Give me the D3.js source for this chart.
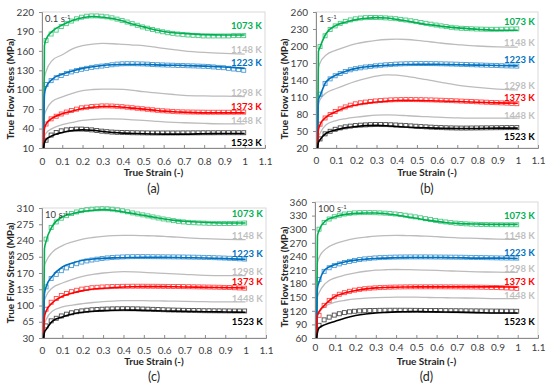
<!DOCTYPE html>
<html>
<head>
<meta charset="utf-8">
<script src="https://cdnjs.cloudflare.com/ajax/libs/d3/7.8.5/d3.min.js"></script>
<style>
body { margin: 0; background: #fff; }
svg { display: block; font-family: Lato, "Open Sans", sans-serif; }
</style>
</head>
<body>
<svg id="chart" width="550" height="392"></svg>
<script>
// temperatures, top curve to bottom curve
var temps = ["1073 K", "1148 K", "1223 K", "1298 K", "1373 K", "1448 K", "1523 K"];
// which temperatures have measured points
var expTemps = [0, 2, 4, 6];

var strainTicks = [0, 0.1, 0.2, 0.3, 0.4, 0.5, 0.6, 0.7, 0.8, 0.9, 1, 1.1];
var yTicksA = [10, 40, 70, 100, 130, 160, 190, 220];
var yTicksB = [20, 50, 80, 110, 140, 170, 200, 230, 260];
var yTicksC = [30, 65, 100, 135, 170, 205, 240, 275, 310];
var yTicksD = [60, 90, 120, 150, 180, 210, 240, 270, 300, 330, 360];

// strain of the model curve points
var strainModel = [0.008, 0.012, 0.02, 0.05, 0.1, 0.15, 0.2, 0.25, 0.3, 0.35, 0.4, 0.45, 0.5, 0.55, 0.6, 0.65, 0.7, 0.8, 0.9, 1.0];
// strain of the measured points
var strainExp = [0.02, 0.045, 0.07, 0.095, 0.12, 0.145, 0.17, 0.195, 0.22, 0.245, 0.27, 0.295, 0.32, 0.345, 0.37, 0.395, 0.42, 0.445, 0.47, 0.495,
                 0.52, 0.545, 0.57, 0.595, 0.62, 0.645, 0.67, 0.695, 0.72, 0.745, 0.77, 0.795, 0.82, 0.845, 0.87, 0.895, 0.92, 0.945, 0.97, 0.995];

// (a) 0.1 s-1
var modelA = [
  [10, 168, 178, 190, 200, 207, 211, 213, 212, 210, 206, 201, 197, 193, 190, 188, 187, 185, 184.6, 184.6],
  [10, 118, 128, 145, 154, 163, 168, 170.5, 171.5, 171, 170, 169, 168, 166, 163.7, 162, 160, 157.5, 156, 155],
  [10, 92, 104, 116, 124, 129, 133, 135.5, 137.5, 138.5, 139, 139, 139, 138.5, 138, 137.8, 137.5, 136.5, 135, 133],
  [10, 60, 68, 81.7, 89, 94.5, 98.6, 100.3, 101, 101, 100.6, 99, 97, 95.5, 94, 92.6, 91.4, 90.4, 90, 89.5],
  [10, 40, 47, 56, 62.7, 67, 71, 73, 74, 74, 73, 71.5, 70, 68.5, 67, 66, 65.3, 64.3, 64.3, 64.3],
  [10, 28, 33, 40, 46, 49.5, 52.5, 54, 55, 55, 54.5, 53.5, 52.5, 51.5, 50.4, 49.6, 49, 48, 47.4, 47.4],
  [10, 18, 23, 29, 34, 37, 38, 37.5, 35.5, 34, 33, 32.5, 32, 31.7, 31.5, 31.5, 31.5, 32, 32.5, 32.5]
];
var expA = [
  [176, 186, 192, 197.5, 202, 206, 209.5, 212, 213.5, 214, 214, 213.5, 212.5, 211, 209, 207, 204.5, 202, 199.5, 197, 195, 193, 191, 189.5, 188, 187, 186, 185, 184.5, 184, 183.5, 183, 183, 183, 183, 183, 183, 183.5, 183.5, 183.5],
  [108, 114, 118.5, 122, 125, 127.5, 129.5, 131.5, 133, 134.5, 135.5, 136.5, 137.5, 138.5, 139.5, 140, 140.2, 140.2, 140, 139.8, 139.5, 139, 138.6, 138.3, 138, 137.8, 137.5, 137.3, 137, 136.8, 136.5, 136.2, 135.8, 135.2, 134.5, 134, 133, 132, 131, 130],
  [47, 55, 59, 62.5, 65.5, 68, 70, 72, 73, 74, 74.5, 75, 75, 74.8, 74.4, 73.8, 73, 72.2, 71.4, 70.6, 69.8, 69, 68.2, 67.5, 67, 66.5, 66, 65.8, 65.6, 65.5, 65.4, 65.3, 65.2, 65.2, 65.2, 65.2, 65.2, 65.2, 65.3, 65.4],
  [22, 30, 34, 36.5, 38, 38.8, 39.2, 39.2, 38.8, 38, 37, 36, 35.2, 34.6, 34.2, 34, 33.8, 33.6, 33.5, 33.4, 33.3, 33.2, 33.2, 33.2, 33.2, 33.2, 33.2, 33.3, 33.3, 33.4, 33.4, 33.5, 33.5, 33.5, 33.6, 33.6, 33.6, 33.6, 33.6, 33.6]
];

// (b) 1 s-1
var modelB = [
  [20, 190, 198, 222, 236.6, 242.4, 246.5, 249, 250, 249.5, 247, 244, 241, 238, 236, 233.7, 232, 229.6, 227.8, 227.8],
  [20, 160, 170, 184, 192.7, 199, 204, 207.5, 210, 211.5, 212, 211.5, 210, 208, 206, 204, 202.6, 200, 198.5, 198],
  [20, 105, 112, 137, 148.8, 155.8, 160.5, 163.4, 165, 166, 167, 167.3, 167.5, 167.5, 167.5, 167.2, 167, 166.3, 165.7, 165],
  [20, 95, 105, 117, 125, 132, 138, 143, 147, 149, 148.5, 146.5, 143.5, 140.5, 137, 134, 131, 127, 124, 122.4],
  [20, 52, 61, 74.4, 84.4, 92, 96, 99, 101.3, 102.7, 103.7, 104, 103.7, 103.4, 103, 102.5, 102, 100.8, 99.6, 99],
  [20, 40, 46, 61, 68.5, 72, 74.4, 76.5, 78, 78.5, 78, 77, 76, 75.2, 74.4, 73.7, 73.2, 72.6, 72.6, 72.6],
  [20, 30, 34.6, 46, 52, 56, 58, 59.5, 60, 59.3, 58, 57, 56, 55.5, 55, 54.7, 54.5, 54.5, 55, 55]
];
var expB = [
  [199, 218, 229, 235.5, 240, 243.5, 246, 248, 249.3, 250, 250.3, 250.3, 250, 249.6, 249, 248.2, 247, 245.8, 244.5, 243, 241.5, 240, 238.5, 237, 235.5, 234.2, 233, 232, 231.3, 230.8, 230.4, 230, 229.8, 229.6, 229.5, 229.5, 229.6, 229.8, 230, 230.2],
  [115, 134, 142, 147.5, 151.5, 155, 158, 160, 161.5, 163, 164, 165, 166, 166.8, 167.4, 168, 168.4, 168.7, 168.9, 169, 169, 169, 168.9, 168.8, 168.6, 168.4, 168.2, 167.9, 167.6, 167.3, 167, 166.7, 166.4, 166.1, 165.8, 165.5, 165.2, 164.9, 164.7, 164.5],
  [62, 73, 79, 84.5, 89, 92.5, 95.5, 98, 99.8, 101, 102, 103, 103.8, 104.4, 104.9, 105.2, 105.4, 105.5, 105.5, 105.4, 105.3, 105.1, 104.9, 104.6, 104.3, 104, 103.6, 103.2, 102.8, 102.4, 102, 101.6, 101.2, 100.8, 100.4, 100, 99.6, 99.2, 98.7, 98.2],
  [36, 45, 49.5, 53, 55.5, 57.3, 58.6, 59.6, 60.3, 60.8, 61.2, 61.5, 61.5, 61.3, 61, 60.6, 60.1, 59.6, 59, 58.4, 57.8, 57.3, 56.8, 56.4, 56, 55.7, 55.5, 55.3, 55.2, 55.2, 55.3, 55.4, 55.5, 55.6, 55.7, 55.8, 55.9, 56, 56, 56]
];

// (c) 10 s-1
var modelC = [
  [30, 222, 238, 270.5, 290.6, 297.8, 302.8, 305, 306.4, 305, 301.4, 297.8, 294.2, 290, 286.3, 283.4, 281.3, 279, 277.7, 277.7],
  [30, 185, 195, 214.5, 229, 237, 243, 246.5, 249, 250.5, 251, 251, 250.4, 249.8, 249, 247.5, 246, 244, 242.5, 241.8],
  [30, 125, 140, 162.8, 183, 191.5, 197.3, 200, 201.6, 202.5, 203, 203.5, 203.7, 203.7, 203.7, 203.4, 203, 202.3, 201, 199.4],
  [30, 110, 120, 137.7, 148.5, 156.5, 162.8, 167, 170, 172, 173, 172.5, 171.4, 170.3, 169.3, 168, 167, 165, 164.3, 164.3],
  [30, 75, 87.5, 105.4, 119.8, 127, 132, 135.6, 137, 138.7, 140, 140.4, 140.6, 140.6, 140.6, 140.3, 140, 139, 138.4, 137.7],
  [30, 60, 69.5, 87.5, 96.8, 101, 104, 106.5, 108.3, 109.5, 110.4, 110.4, 110.4, 110, 109.7, 109.3, 109, 108.3, 107.6, 107.6],
  [30, 42, 48, 66, 75.3, 81.7, 85.3, 87.5, 89, 89.8, 90.3, 90, 89.6, 88.9, 88.2, 87.8, 87.5, 86.7, 86, 85.3]
];
var expC = [
  [243, 268, 280, 288, 293.5, 298, 301.5, 304.3, 306.3, 307.5, 308.2, 308.5, 308.3, 307.5, 306, 304, 301.8, 299.4, 297.2, 295.2, 293, 290.8, 288.5, 286.4, 284.5, 282.8, 281.3, 280, 279, 278.3, 277.8, 277.4, 277, 276.8, 276.6, 276.5, 276.6, 276.9, 277.3, 277.7],
  [140, 158, 167, 175, 181, 186, 190, 193.5, 196, 198, 199.8, 201.3, 202.5, 203.4, 204.1, 204.6, 205, 205.2, 205.3, 205.3, 205.2, 205.1, 205, 204.9, 204.8, 204.7, 204.6, 204.5, 204.3, 204.1, 203.9, 203.6, 203.3, 203, 202.6, 202.2, 201.7, 201.2, 200.6, 200],
  [92, 107, 115, 121.5, 126, 129.8, 132.8, 135.3, 137, 138.3, 139.2, 139.9, 140.4, 140.8, 141.1, 141.3, 141.4, 141.5, 141.5, 141.5, 141.4, 141.4, 141.3, 141.2, 141.1, 141, 140.9, 140.7, 140.5, 140.3, 140.1, 139.9, 139.7, 139.5, 139.3, 139, 138.7, 138.3, 137.8, 137.3],
  [56, 67, 72.5, 77.5, 81.3, 84.3, 86.6, 88.4, 89.8, 90.8, 91.5, 92, 92.4, 92.7, 92.9, 93, 93, 92.9, 92.7, 92.4, 92.1, 91.7, 91.3, 90.9, 90.5, 90.2, 89.9, 89.6, 89.4, 89.2, 89, 88.8, 88.7, 88.6, 88.5, 88.4, 88.3, 88.2, 88.2, 88.2]
];

// (d) 100 s-1
var modelD = [
  [60, 285, 297, 318, 327.6, 332.7, 335, 335.7, 335.7, 334.2, 331.3, 327.6, 324, 320, 317.3, 314.3, 312.8, 311.4, 310.6, 310.6],
  [60, 225, 237, 255.4, 268, 275, 279.7, 282.5, 284.8, 285.8, 286.3, 286, 285.6, 284.6, 283.4, 282, 281, 279.7, 278.2, 277.5],
  [60, 170, 183, 211, 222, 228, 231.8, 234, 235.5, 236.3, 237, 237.4, 237.7, 237.7, 237.7, 237.3, 237, 236.2, 236.2, 235.5],
  [60, 150, 159.6, 180, 192.7, 199, 203.8, 207.2, 209.7, 210.6, 211.1, 210.8, 210.4, 209.7, 209, 208.2, 207.5, 206, 205.3, 204.6],
  [60, 110, 118, 133.8, 152, 159.6, 164.7, 168.4, 170.6, 171.5, 172, 172.5, 172.8, 172.8, 172.8, 172.8, 172.8, 172.8, 172.8, 172],
  [60, 108, 115.3, 130, 139, 143.3, 146.3, 148, 149, 149.6, 150, 150, 150, 149.5, 149, 148.8, 148.5, 147.8, 147, 147],
  [60, 72, 82, 89.5, 97, 104.3, 109.5, 113, 115.3, 116.6, 117.6, 118, 118.3, 118, 117.6, 117.3, 117, 116, 115.3, 115.3]
];
var expD = [
  [300, 315, 322.5, 327.5, 331, 333.5, 335, 336, 336.5, 336.6, 336.6, 336.4, 336, 335.4, 334.6, 333.6, 332.4, 330.8, 329, 327.2, 325.2, 323.2, 321.2, 319.4, 317.6, 316, 314.6, 313.4, 312.5, 311.8, 311.2, 310.8, 310.5, 310.2, 310, 309.9, 309.8, 309.8, 309.8, 309.8],
  [189, 207, 215, 219.7, 223.5, 226.5, 229, 231.2, 233, 234.5, 235.7, 236.6, 237.3, 237.8, 238.2, 238.5, 238.7, 238.8, 238.9, 238.9, 238.9, 238.9, 238.8, 238.7, 238.6, 238.5, 238.4, 238.3, 238.2, 238, 237.8, 237.6, 237.4, 237.2, 237, 236.8, 236.6, 236.4, 236.3, 236.2],
  [110, 132, 143, 151, 156.5, 160, 163, 165.5, 167.3, 168.7, 169.8, 170.6, 171.2, 171.7, 172.1, 172.4, 172.6, 172.8, 172.9, 172.9, 172.9, 172.9, 172.9, 172.9, 172.9, 172.8, 172.8, 172.7, 172.6, 172.5, 172.4, 172.3, 172.1, 171.9, 171.6, 171.3, 170.9, 170.5, 170, 169.5],
  [88, 100, 106, 110.5, 113.5, 116, 117.8, 119, 119.8, 120.3, 120.6, 120.8, 121, 121.1, 121.2, 121.2, 121.2, 121.2, 121.1, 121, 120.9, 120.8, 120.7, 120.6, 120.5, 120.4, 120.3, 120.2, 120.1, 120, 119.9, 119.8, 119.7, 119.6, 119.5, 119.4, 119.3, 119.2, 119.1, 119]
];

var lineColors = ["#00b050", "#bcbcbc", "#0070c0", "#bcbcbc", "#ff0000", "#bcbcbc", "#000000"];
var labelDy = [-9, -4, -6, -4, -6, -3, 9];

var panels = [
  {cap: "(a)", rate: "0.1", model: modelA, exp: expA, ticks: yTicksA, l: 42, r: 265, t: 12, b: 148, tickY: 165, titleY: 176, capY: 193, ytX: 10, ytY: 89},
  {cap: "(b)", rate: "1", model: modelB, exp: expB, ticks: yTicksB, l: 316, r: 538, t: 12, b: 148, tickY: 164, titleY: 176, capY: 193, ytX: 284, ytY: 89},
  {cap: "(c)", rate: "10", model: modelC, exp: expC, ticks: yTicksC, l: 42, r: 266, t: 208, b: 338, tickY: 354, titleY: 365, capY: 381, ytX: 10, ytY: 273},
  {cap: "(d)", rate: "100", model: modelD, exp: expD, ticks: yTicksD, l: 315, r: 538, t: 202, b: 338, tickY: 351, titleY: 365, capY: 381, ytX: 284, ytY: 277}
];

var svg = d3.select("#chart");

panels.forEach(function(p, pi) {
  var x = d3.scaleLinear().domain([0, 1.1]).range([p.l, p.r]);
  var y = d3.scaleLinear().domain([p.ticks[0], p.ticks[p.ticks.length - 1]]).range([p.b, p.t]);
  var g = svg.append("g");

  // plot frame
  g.append("rect")
    .attr("x", p.l).attr("y", p.t)
    .attr("width", p.r - p.l).attr("height", p.b - p.t)
    .attr("fill", "none").attr("stroke", "#d9d9d9").attr("stroke-width", 1);

  // y axis
  var yAxis = g.append("g")
    .attr("transform", "translate(" + p.l + ",0)")
    .call(d3.axisLeft(y).tickValues(p.ticks).tickSize(3).tickPadding(5));
  yAxis.select(".domain").attr("stroke", "#8c8c8c");
  yAxis.selectAll(".tick line").attr("stroke", "#8c8c8c");
  yAxis.selectAll("text").attr("font-size", 10).attr("fill", "#404040").attr("font-family", "Lato");

  // x axis, ticks pointing in
  var xAxis = g.append("g")
    .attr("transform", "translate(0," + p.b + ")")
    .call(d3.axisBottom(x).tickValues(strainTicks).tickSize(-3).tickFormat(d3.format("~g")));
  xAxis.select(".domain").attr("stroke", "#8c8c8c");
  xAxis.selectAll(".tick line").attr("stroke", "#8c8c8c");
  xAxis.selectAll("text")
    .attr("y", p.tickY - p.b).attr("dy", 0)
    .attr("font-size", 10).attr("fill", "#404040").attr("font-family", "Lato");

  var clipId = "clip" + pi;
  g.append("clipPath").attr("id", clipId)
    .append("rect").attr("x", p.l).attr("y", p.t - 3).attr("width", p.r - p.l).attr("height", p.b - p.t + 3);

  var plot = g.append("g").attr("clip-path", "url(#" + clipId + ")");
  var line = d3.line().curve(d3.curveMonotoneX)
    .x(function(d, i) { return x(strainModel[i]); })
    .y(function(d) { return y(d); });

  // gray model-only curves first
  [1, 3, 5].forEach(function(k) {
    plot.append("path").datum(p.model[k])
      .attr("fill", "none").attr("stroke", lineColors[k]).attr("stroke-width", 1.3)
      .attr("d", line);
  });

  // measured points
  expTemps.forEach(function(k, j) {
    plot.selectAll(".m" + k)
      .data(p.exp[j])
      .enter().append("rect")
      .attr("class", "m" + k)
      .attr("x", function(d, i) { return x(strainExp[i]) - 2; })
      .attr("y", function(d) { return y(d) - 2; })
      .attr("width", 4).attr("height", 4)
      .attr("fill", "none")
      .attr("stroke", lineColors[k]).attr("stroke-opacity", 0.7).attr("stroke-width", 0.9);
  });

  // model lines for the measured temperatures
  expTemps.forEach(function(k) {
    plot.append("path").datum(p.model[k])
      .attr("fill", "none").attr("stroke", lineColors[k]).attr("stroke-width", 1.6)
      .attr("d", line);
  });

  // temperature labels at the right end
  temps.forEach(function(t, k) {
    var last = p.model[k][p.model[k].length - 1];
    g.append("text")
      .attr("x", x(1.084)).attr("y", y(last) + labelDy[k])
      .attr("dy", "0.35em")
      .attr("text-anchor", "end")
      .attr("font-size", 9.5).attr("font-weight", "bold")
      .attr("fill", lineColors[k] == "#bcbcbc" ? "#bfbfbf" : lineColors[k])
      .text(t);
  });

  // strain rate
  var rt = g.append("text")
    .attr("x", p.l + 3).attr("y", p.t + 10)
    .attr("font-size", 9.5).attr("fill", "#404040");
  rt.append("tspan").text(p.rate + " s");
  rt.append("tspan").attr("font-size", 6).attr("dy", -3.5).text("-1");

  // axis titles
  g.append("text")
    .attr("x", (p.l + p.r) / 2).attr("y", p.titleY)
    .attr("text-anchor", "middle")
    .attr("font-size", 10).attr("font-weight", "bold").attr("fill", "#262626")
    .text("True Strain (-)");
  g.append("text")
    .attr("transform", "translate(" + p.ytX + "," + p.ytY + ") rotate(-90)")
    .attr("text-anchor", "middle").attr("dy", "0.35em")
    .attr("font-size", 10).attr("font-weight", "bold").attr("fill", "#262626")
    .text("True Flow Stress (MPa)");

  // panel caption
  g.append("text")
    .attr("x", (p.l + p.r) / 2).attr("y", p.capY)
    .attr("text-anchor", "middle")
    .attr("font-size", 12.5).attr("fill", "#262626")
    .text(p.cap);
});
</script>
</body>
</html>
